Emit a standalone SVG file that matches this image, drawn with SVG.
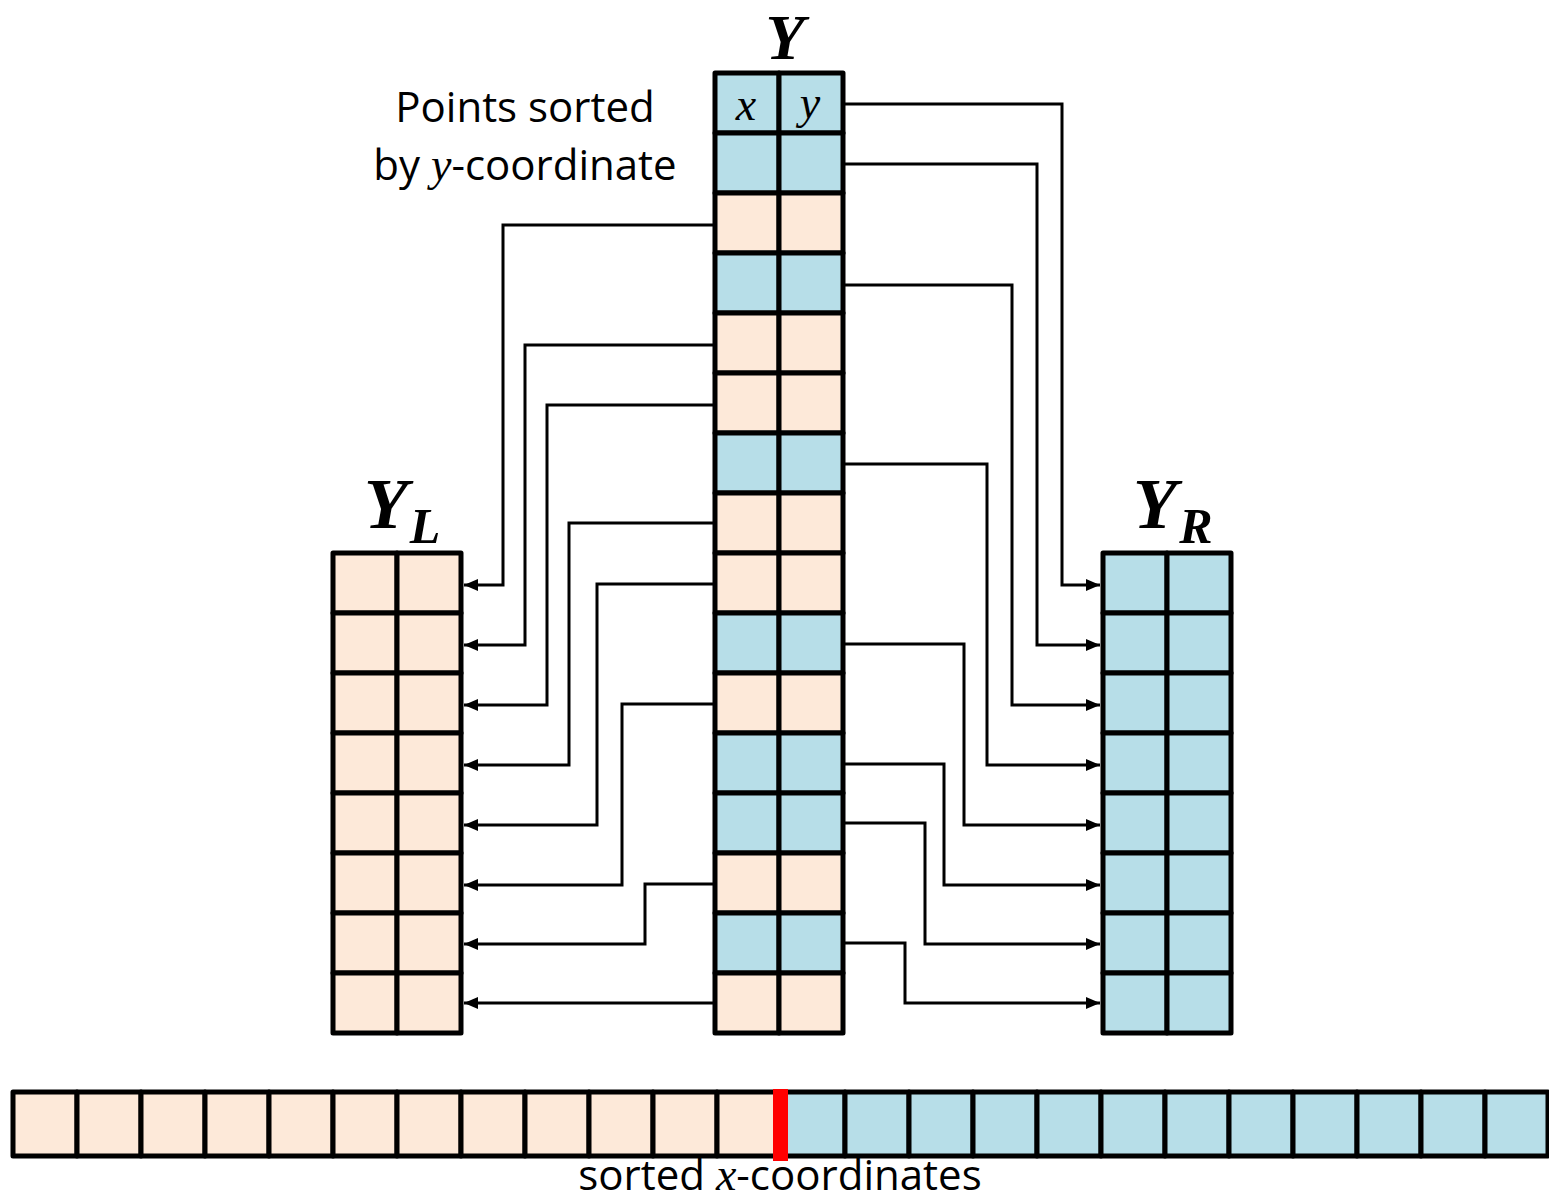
<svg xmlns="http://www.w3.org/2000/svg" width="1549" height="1199" viewBox="0 0 1549 1199">
  <style>
    .pe { fill: #FDE9D9; stroke: #000; stroke-width: 5; stroke-linejoin: round; }
    .bl { fill: #B7DEE8; stroke: #000; stroke-width: 5; stroke-linejoin: round; }
    .arr { fill: none; stroke: #000; stroke-width: 3; marker-end: url(#ah); }
    .title { font-family: "Liberation Serif", "DejaVu Serif", serif; font-style: italic; font-weight: bold; fill: #000; }
    .lbl { font-family: "Open Sans", "Liberation Sans", sans-serif; font-size: 42px; fill: #000; }
    .math { font-family: "Liberation Serif", "DejaVu Serif", serif; font-style: italic; }
  </style>
  <defs>
    <marker id="ah" markerWidth="14" markerHeight="12" refX="14" refY="6" orient="auto" markerUnits="userSpaceOnUse">
      <path d="M0,0 L14,6 L0,12 z" fill="#000"/>
    </marker>
  </defs>
  <rect width="1549" height="1199" fill="#fff"/>

  <!-- Y: points sorted by y -->
  <g id="Y">
    <text class="title" x="785" y="59" font-size="64" text-anchor="middle">Y</text>
    <rect class="bl" x="715" y="73" width="64" height="60"/><rect class="bl" x="779" y="73" width="64" height="60"/>
    <rect class="bl" x="715" y="133" width="64" height="60"/><rect class="bl" x="779" y="133" width="64" height="60"/>
    <rect class="pe" x="715" y="193" width="64" height="60"/><rect class="pe" x="779" y="193" width="64" height="60"/>
    <rect class="bl" x="715" y="253" width="64" height="60"/><rect class="bl" x="779" y="253" width="64" height="60"/>
    <rect class="pe" x="715" y="313" width="64" height="60"/><rect class="pe" x="779" y="313" width="64" height="60"/>
    <rect class="pe" x="715" y="373" width="64" height="60"/><rect class="pe" x="779" y="373" width="64" height="60"/>
    <rect class="bl" x="715" y="433" width="64" height="60"/><rect class="bl" x="779" y="433" width="64" height="60"/>
    <rect class="pe" x="715" y="493" width="64" height="60"/><rect class="pe" x="779" y="493" width="64" height="60"/>
    <rect class="pe" x="715" y="553" width="64" height="60"/><rect class="pe" x="779" y="553" width="64" height="60"/>
    <rect class="bl" x="715" y="613" width="64" height="60"/><rect class="bl" x="779" y="613" width="64" height="60"/>
    <rect class="pe" x="715" y="673" width="64" height="60"/><rect class="pe" x="779" y="673" width="64" height="60"/>
    <rect class="bl" x="715" y="733" width="64" height="60"/><rect class="bl" x="779" y="733" width="64" height="60"/>
    <rect class="bl" x="715" y="793" width="64" height="60"/><rect class="bl" x="779" y="793" width="64" height="60"/>
    <rect class="pe" x="715" y="853" width="64" height="60"/><rect class="pe" x="779" y="853" width="64" height="60"/>
    <rect class="bl" x="715" y="913" width="64" height="60"/><rect class="bl" x="779" y="913" width="64" height="60"/>
    <rect class="pe" x="715" y="973" width="64" height="60"/><rect class="pe" x="779" y="973" width="64" height="60"/>
    <text class="math" x="746" y="120" font-size="46" text-anchor="middle">x</text>
    <text class="math" x="810" y="118" font-size="46" text-anchor="middle">y</text>
  </g>

  <!-- caption for Y -->
  <g id="caption">
    <text class="lbl" x="525" y="122" text-anchor="middle">Points sorted</text>
    <text class="lbl" x="525" y="180" text-anchor="middle">by <tspan class="math" font-size="46">y</tspan>-coordinate</text>
  </g>

  <!-- Y_L: left half -->
  <g id="YL">
    <text class="title" x="386" y="528" font-size="72" text-anchor="middle">Y</text>
    <text class="title" x="425" y="543" font-size="50" text-anchor="middle">L</text>
    <rect class="pe" x="333" y="553" width="64" height="60"/><rect class="pe" x="397" y="553" width="64" height="60"/>
    <rect class="pe" x="333" y="613" width="64" height="60"/><rect class="pe" x="397" y="613" width="64" height="60"/>
    <rect class="pe" x="333" y="673" width="64" height="60"/><rect class="pe" x="397" y="673" width="64" height="60"/>
    <rect class="pe" x="333" y="733" width="64" height="60"/><rect class="pe" x="397" y="733" width="64" height="60"/>
    <rect class="pe" x="333" y="793" width="64" height="60"/><rect class="pe" x="397" y="793" width="64" height="60"/>
    <rect class="pe" x="333" y="853" width="64" height="60"/><rect class="pe" x="397" y="853" width="64" height="60"/>
    <rect class="pe" x="333" y="913" width="64" height="60"/><rect class="pe" x="397" y="913" width="64" height="60"/>
    <rect class="pe" x="333" y="973" width="64" height="60"/><rect class="pe" x="397" y="973" width="64" height="60"/>
  </g>

  <!-- Y_R: right half -->
  <g id="YR">
    <text class="title" x="1155" y="528" font-size="72" text-anchor="middle">Y</text>
    <text class="title" x="1196" y="543" font-size="50" text-anchor="middle">R</text>
    <rect class="bl" x="1103" y="553" width="64" height="60"/><rect class="bl" x="1167" y="553" width="64" height="60"/>
    <rect class="bl" x="1103" y="613" width="64" height="60"/><rect class="bl" x="1167" y="613" width="64" height="60"/>
    <rect class="bl" x="1103" y="673" width="64" height="60"/><rect class="bl" x="1167" y="673" width="64" height="60"/>
    <rect class="bl" x="1103" y="733" width="64" height="60"/><rect class="bl" x="1167" y="733" width="64" height="60"/>
    <rect class="bl" x="1103" y="793" width="64" height="60"/><rect class="bl" x="1167" y="793" width="64" height="60"/>
    <rect class="bl" x="1103" y="853" width="64" height="60"/><rect class="bl" x="1167" y="853" width="64" height="60"/>
    <rect class="bl" x="1103" y="913" width="64" height="60"/><rect class="bl" x="1167" y="913" width="64" height="60"/>
    <rect class="bl" x="1103" y="973" width="64" height="60"/><rect class="bl" x="1167" y="973" width="64" height="60"/>
  </g>

  <!-- sorted x-coordinates strip with the dividing line -->
  <g id="xstrip">
    <rect class="pe" x="13" y="1092" width="64" height="64"/>
    <rect class="pe" x="77" y="1092" width="64" height="64"/>
    <rect class="pe" x="141" y="1092" width="64" height="64"/>
    <rect class="pe" x="205" y="1092" width="64" height="64"/>
    <rect class="pe" x="269" y="1092" width="64" height="64"/>
    <rect class="pe" x="333" y="1092" width="64" height="64"/>
    <rect class="pe" x="397" y="1092" width="64" height="64"/>
    <rect class="pe" x="461" y="1092" width="64" height="64"/>
    <rect class="pe" x="525" y="1092" width="64" height="64"/>
    <rect class="pe" x="589" y="1092" width="64" height="64"/>
    <rect class="pe" x="653" y="1092" width="64" height="64"/>
    <rect class="pe" x="717" y="1092" width="64" height="64"/>
    <rect class="bl" x="781" y="1092" width="64" height="64"/>
    <rect class="bl" x="845" y="1092" width="64" height="64"/>
    <rect class="bl" x="909" y="1092" width="64" height="64"/>
    <rect class="bl" x="973" y="1092" width="64" height="64"/>
    <rect class="bl" x="1037" y="1092" width="64" height="64"/>
    <rect class="bl" x="1101" y="1092" width="64" height="64"/>
    <rect class="bl" x="1165" y="1092" width="64" height="64"/>
    <rect class="bl" x="1229" y="1092" width="64" height="64"/>
    <rect class="bl" x="1293" y="1092" width="64" height="64"/>
    <rect class="bl" x="1357" y="1092" width="64" height="64"/>
    <rect class="bl" x="1421" y="1092" width="64" height="64"/>
    <rect class="bl" x="1485" y="1092" width="63" height="64"/>
    <rect x="773" y="1089" width="15" height="72" fill="#FF0000"/>
    <text class="lbl" x="780" y="1190" text-anchor="middle">sorted <tspan class="math" font-size="46">x</tspan>-coordinates</text>
  </g>

  <!-- connectors from Y rows to Y_L / Y_R rows -->
  <g id="connectors">
    <path class="arr" d="M713,225 H503 V585 H464"/>
    <path class="arr" d="M713,345 H525 V645 H464"/>
    <path class="arr" d="M713,405 H547 V705 H464"/>
    <path class="arr" d="M713,523 H569 V765 H464"/>
    <path class="arr" d="M713,584 H597 V825 H464"/>
    <path class="arr" d="M713,704 H622 V885 H464"/>
    <path class="arr" d="M713,884 H645 V944 H464"/>
    <path class="arr" d="M713,1003 H464"/>

    <path class="arr" d="M845,104 H1062 V585 H1100"/>
    <path class="arr" d="M845,164 H1037 V645 H1100"/>
    <path class="arr" d="M845,285 H1012 V705 H1100"/>
    <path class="arr" d="M845,464 H987 V765 H1100"/>
    <path class="arr" d="M845,644 H964 V825 H1100"/>
    <path class="arr" d="M845,764 H944 V885 H1100"/>
    <path class="arr" d="M845,823 H925 V944 H1100"/>
    <path class="arr" d="M845,943 H905 V1003 H1100"/>
  </g>
</svg>
